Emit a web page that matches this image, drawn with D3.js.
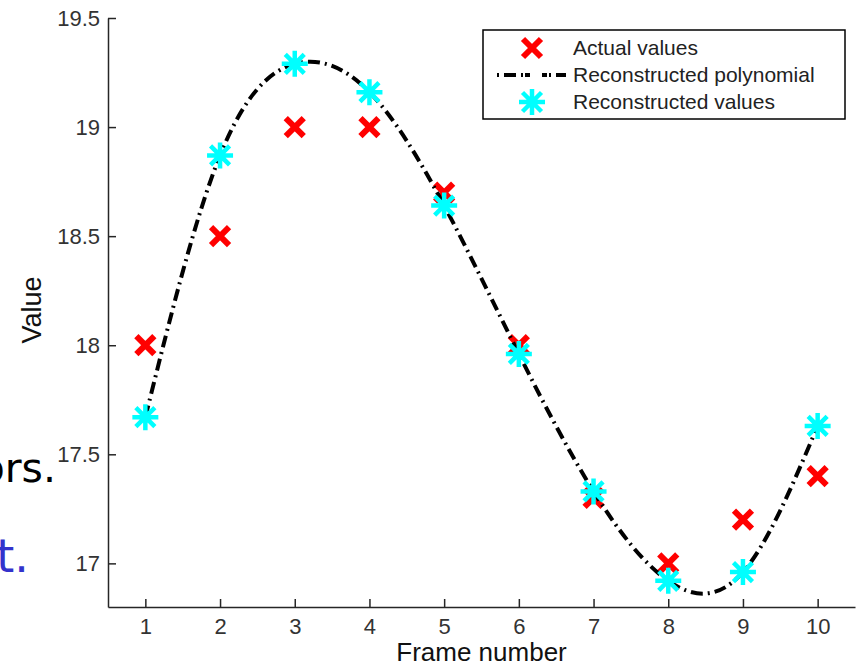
<!DOCTYPE html>
<html>
<head>
<meta charset="UTF-8">
<title>Reconstructed polynomial</title>
<script src="https://d3js.org/d3.v7.min.js"></script>
<style>
    body { margin: 0; background: #fff; }
    text { font-family: "Liberation Sans", Arial, sans-serif; }
    .axis path, .axis line { stroke: #262626; stroke-width: 1.5; }
    .axis text { fill: #333; font-size: 22px; }
    .slide { font-family: "DejaVu Sans", sans-serif; }
</style>
</head>
<body>
<div id="chart"></div>
<script>

var frames = [1, 2, 3, 4, 5, 6, 7, 8, 9, 10];
var actualValues = [18.0, 18.5, 19.0, 19.0, 18.7, 18.0, 17.3, 17.0, 17.2, 17.4];
var reconValues = [17.67, 18.87, 19.29, 19.16, 18.64, 17.96, 17.33, 16.92, 16.96, 17.63];
var yTicks = [17, 17.5, 18, 18.5, 19, 19.5];
var yTickLabels = ["17", "17.5", "18", "18.5", "19", "19.5"];
var legendLabels = ["Actual values", "Reconstructed polynomial", "Reconstructed values"];

var width = 858, height = 667;
var margin = {top: 18, right: 3, bottom: 60, left: 108};

var svg = d3.select("#chart").append("svg")
    .attr("width", width)
    .attr("height", height);

// bits of the slide text that stick out behind the figure
svg.append("text").attr("class", "slide")
    .attr("x", 56).attr("y", 482)
    .attr("text-anchor", "end")
    .style("font-size", "41px").style("fill", "#000")
    .text("ors.");
svg.append("text").attr("class", "slide")
    .attr("x", 29).attr("y", 572)
    .attr("text-anchor", "end")
    .style("font-size", "46px").style("fill", "#3333cc")
    .text("t.");

var x = d3.scaleLinear().domain([0.5, 10.5]).range([margin.left, width - margin.right]);
var y = d3.scaleLinear().domain([16.8, 19.5]).range([height - margin.bottom, margin.top]);

svg.append("g")
    .attr("class", "axis")
    .attr("transform", "translate(0," + (height - margin.bottom) + ")")
    .call(d3.axisBottom(x).tickValues(frames).tickFormat(d3.format("d"))
        .tickSizeInner(-8).tickSizeOuter(0).tickPadding(11));

svg.append("g")
    .attr("class", "axis")
    .attr("transform", "translate(" + margin.left + ",0)")
    .call(d3.axisLeft(y).tickValues(yTicks)
        .tickFormat(function(d, i) { return yTickLabels[i]; })
        .tickSizeInner(-8).tickSizeOuter(0).tickPadding(8));

svg.append("text")
    .attr("x", (margin.left + width - margin.right) / 2)
    .attr("y", 661)
    .attr("text-anchor", "middle")
    .style("font-size", "26px").style("fill", "#111")
    .text("Frame number");

svg.append("text")
    .attr("transform", "translate(41,310) rotate(-90)")
    .attr("text-anchor", "middle")
    .style("font-size", "27px").style("fill", "#111")
    .text("Value");

function drawCross(g, cx, cy) {
    var r = 9;
    g.append("path")
        .attr("d", "M" + (cx - r) + "," + (cy - r) + "L" + (cx + r) + "," + (cy + r) +
                   "M" + (cx - r) + "," + (cy + r) + "L" + (cx + r) + "," + (cy - r))
        .attr("stroke", "#ff0000").attr("stroke-width", 6).attr("fill", "none");
}

function drawStar(g, cx, cy) {
    var r = 13, d = 9.5;
    g.append("path")
        .attr("d", "M" + cx + "," + (cy - r) + "L" + cx + "," + (cy + r) +
                   "M" + (cx - r) + "," + cy + "L" + (cx + r) + "," + cy +
                   "M" + (cx - d) + "," + (cy - d) + "L" + (cx + d) + "," + (cy + d) +
                   "M" + (cx - d) + "," + (cy + d) + "L" + (cx + d) + "," + (cy - d))
        .attr("stroke", "#00ffff").attr("stroke-width", 4.5).attr("fill", "none");
}

var crosses = svg.append("g");
frames.forEach(function(f, i) { drawCross(crosses, x(f), y(actualValues[i])); });

var line = d3.line()
    .x(function(d) { return x(d[0]); })
    .y(function(d) { return y(d[1]); })
    .curve(d3.curveNatural);

svg.append("path")
    .datum(frames.map(function(f, i) { return [f, reconValues[i]]; }))
    .attr("d", line)
    .attr("fill", "none")
    .attr("stroke", "#000")
    .attr("stroke-width", 4)
    .attr("stroke-dasharray", "12,5,2,5");

var stars = svg.append("g");
frames.forEach(function(f, i) { drawStar(stars, x(f), y(reconValues[i])); });

// legend
var legend = svg.append("g");
legend.append("rect")
    .attr("x", 483).attr("y", 30)
    .attr("width", 362).attr("height", 89)
    .attr("fill", "#fff").attr("stroke", "#000").attr("stroke-width", 1.5);

var rowY = [48, 75, 102];
drawCross(legend, 532, rowY[0]);
legend.append("line")
    .attr("x1", 497).attr("x2", 566)
    .attr("y1", rowY[1]).attr("y2", rowY[1])
    .attr("stroke", "#000").attr("stroke-width", 4)
    .attr("stroke-dasharray", "2,5,12,5,2");
drawStar(legend, 532, rowY[2]);

legend.selectAll(".lbl")
    .data(legendLabels)
    .enter().append("text")
    .attr("class", "lbl")
    .attr("x", 573)
    .attr("y", function(d, i) { return rowY[i]; })
    .attr("dy", "0.35em")
    .style("font-size", "21px").style("fill", "#222")
    .text(function(d) { return d; });

</script>
</body>
</html>
